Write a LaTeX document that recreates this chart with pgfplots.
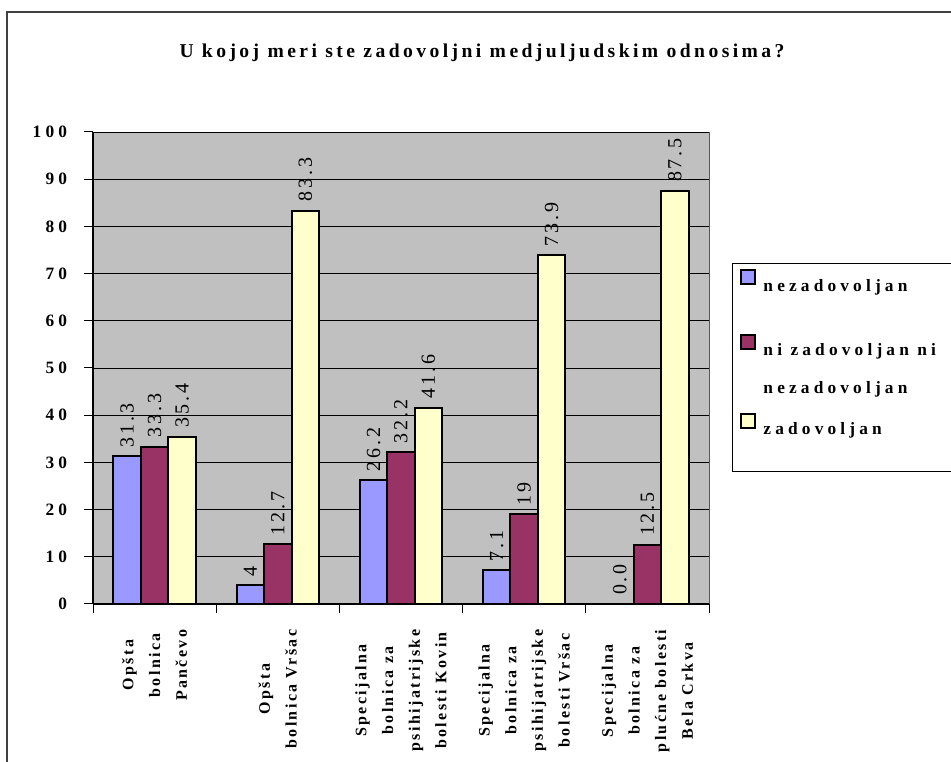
\documentclass[border=0pt]{standalone}
\usepackage{fontspec}
\usepackage{pgfplots}
\usepackage{pgfplotstable}
\pgfplotsset{compat=1.18}
\setmainfont{Liberation Serif}
\newfontfamily\fTitle[LetterSpace=17.5]{Liberation Serif}
\newfontfamily\fTick[LetterSpace=24]{Liberation Serif}
\newfontfamily\fCat[LetterSpace=15]{Liberation Serif}
\newfontfamily\fLab[LetterSpace=15]{Liberation Serif}

\definecolor{cBlue}{HTML}{9999FF}
\definecolor{cPlum}{HTML}{993366}
\definecolor{cYel}{HTML}{FFFFCC}
\definecolor{cGray}{HTML}{C0C0C0}
\definecolor{frame}{HTML}{404040}

% x = bolnica (0..4), y = procenat
\pgfplotstableread{
x y
0 31.3
1 4
2 26.2
3 7.1
4 0.0
}\nez
\pgfplotstableread{
x y
0 33.3
1 12.7
2 32.2
3 19
4 12.5
}\nini
\pgfplotstableread{
x y
0 35.4
1 83.3
2 41.6
3 73.9
4 87.5
}\zad

\begin{document}
\begin{tikzpicture}
\useasboundingbox (0,0) rectangle (713.25pt,571.5pt);
\draw[line width=1.5pt, color=frame] (5.25pt,-20pt) -- (5.25pt,562.5pt) -- (740pt,562.5pt);
\node[font=\fTitle\bfseries\fontsize{14.7}{17}\selectfont, anchor=base] at (361.5pt,528pt)
  {U kojoj meri ste zadovoljni medjuljudskim odnosima?};
\begin{axis}[
    at={(69.75pt,118.5pt)}, anchor=south west,
    scale only axis, width=462pt, height=354pt,
    ybar=0pt, bar width=20.6pt,
    xmin=-0.5, xmax=4.5, ymin=0, ymax=100,
    xtick={-0.5,0.5,1.5,2.5,3.5,4.5},
    xticklabels={,,,,,},
    extra x ticks={0,1,2,3,4},
    extra x tick labels={{Opšta\\bolnica\\Pančevo},{Opšta\\bolnica Vršac},{Specijalna\\bolnica za\\psihijatrijske\\bolesti Kovin},{Specijalna\\bolnica za\\psihijatrijske\\bolesti Vršac},{Specijalna\\bolnica za\\plućne bolesti\\Bela Crkva}},
    extra x tick style={major tick length=0pt},
    ytick={0,10,...,100},
    axis x line*=bottom, axis y line*=left,
    axis line style={black, line width=1pt},
    axis background/.style={fill=cGray, draw=gray!70!black},
    ymajorgrids, grid style={black, line width=0.6pt},
    tick align=outside, major tick length=6.75pt,
    tick style={black, line width=0.75pt},
    /pgf/number format/assume math mode=true,
    yticklabel style={font=\fTick\bfseries\fontsize{13}{15}\selectfont, anchor=east, inner sep=0pt, xshift=-12.5pt},
    xticklabel style={rotate=90, anchor=east, align=center, font=\fCat\bfseries\fontsize{12}{20}\selectfont, inner sep=0pt},
    xticklabel shift=19pt,
    nodes near coords, point meta=explicit symbolic,
    nodes near coords align={anchor=west},
    every node near coord/.append style={rotate=90, anchor=west, font=\fLab\fontsize{15}{17}\selectfont, inner sep=0pt, inner xsep=6pt, black},
    legend style={at={(1.0373,0.7225)}, anchor=north west, draw=black, line width=0.75pt,
      inner xsep=5.5pt, inner ysep=0pt, row sep=0pt, cells={anchor=base west},
      nodes={inner sep=0pt, text depth=},
      font=\fTick\bfseries\fontsize{13}{15}\selectfont,
      /tikz/every odd column/.style={column sep=5.25pt}},
    legend image code/.code={\draw[#1, line width=1.5pt] (0pt,5pt) rectangle (11pt,15.5pt);},
]
\addplot[fill=cBlue, draw=black, line width=1.5pt] table[x=x, y=y, meta=y] {\nez};
\addlegendentry{\rule[-32.25pt]{0pt}{53pt}nezadovoljan}
\addplot[fill=cPlum, draw=black, line width=1.5pt] table[x=x, y=y, meta=y] {\nini};
\addlegendentry{\rule[-42.75pt]{0pt}{42.75pt}\rlap{\raisebox{-28.5pt}[0pt][0pt]{nezadovoljan}}ni zadovoljan ni\rule{20pt}{0pt}}
\addplot[fill=cYel, draw=black, line width=1.5pt] table[x=x, y=y, meta=y] {\zad};
\addlegendentry{\rule[-27.75pt]{0pt}{27.75pt}zadovoljan}
\end{axis}
\end{tikzpicture}
\end{document}
